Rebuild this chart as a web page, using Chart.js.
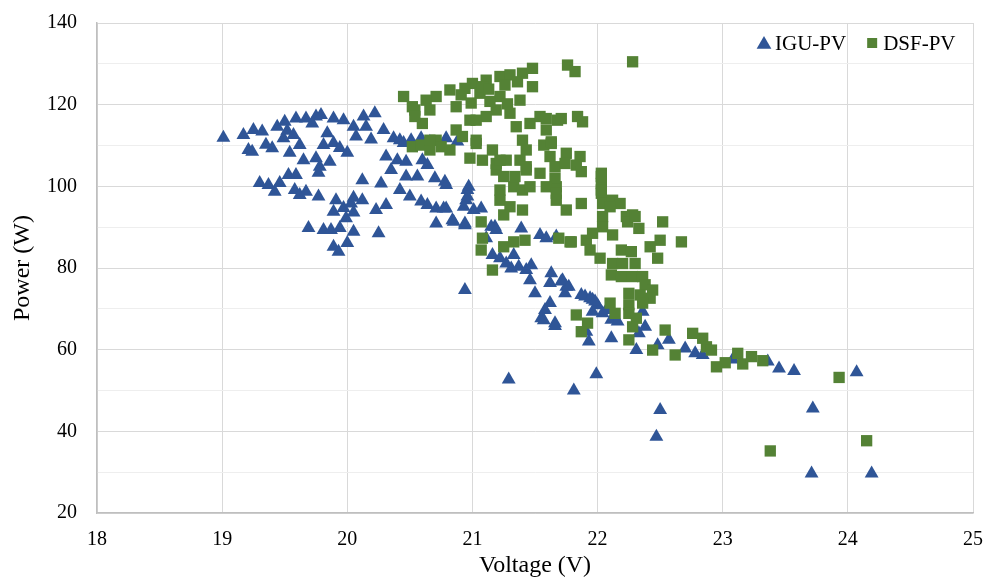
<!DOCTYPE html>
<html>
<head>
<meta charset="utf-8">
<script src="https://cdn.jsdelivr.net/npm/chart.js@4"></script>
<style>
  html, body { margin: 0; padding: 0; background: #fff; }
  #wrap { width: 989px; height: 577px; }
</style>
</head>
<body>
<div id="wrap"><canvas id="chart"></canvas></div>
<script>
/* IGU-PV vs DSF-PV — Power x Voltage */

const xTicks = [18, 19, 20, 21, 22, 23, 24, 25];
const yTickLabels = [20, 40, 60, 80, 100, 120, 140];

const iguVoltage = [
  19.01, 19.17, 19.25, 19.32, 19.21, 19.24, 19.40, 19.44, 19.50, 19.59, 19.67, 19.75, 19.79, 19.89, 19.97, 20.13,
  19.49, 19.57, 19.62, 19.54, 19.81, 19.89, 19.94, 20.00, 19.65, 19.75, 19.78, 19.86, 19.77, 20.12, 19.59, 19.53,
  19.30, 19.37, 19.42, 19.46, 19.58, 19.62, 19.67, 19.77, 19.91, 19.97, 20.03, 20.12, 19.89, 19.99, 19.69, 19.81,
  19.87, 19.94, 20.05, 19.89, 19.93, 20.00, 20.22, 20.05, 20.15, 20.29, 20.37, 20.42, 20.51, 20.59, 20.79, 20.31,
  20.40, 20.47, 20.60, 20.64, 20.35, 20.47, 20.56, 20.70, 20.78, 20.27, 20.42, 20.50, 20.59, 20.64, 20.71, 20.79,
  20.71, 20.84, 20.94, 20.96, 20.96, 21.07, 20.23, 20.31, 20.25, 20.05, 20.05, 21.18, 20.79, 20.97, 20.95, 20.93,
  21.01, 20.77, 20.85, 20.94, 21.15, 21.19, 21.39, 21.54, 21.59, 21.67, 21.11, 21.16, 21.22, 21.27, 21.33, 21.31,
  21.37, 21.43, 21.47, 21.46, 21.50, 21.63, 21.62, 21.71, 21.75, 21.74, 21.62, 21.58, 21.55, 21.66, 21.90, 21.96,
  22.00, 22.07, 20.94, 21.72, 21.77, 21.87, 21.94, 21.98, 21.96, 22.04, 22.11, 22.16, 22.36, 22.38, 22.33, 21.91,
  21.93, 22.11, 22.31, 22.48, 22.57, 22.70, 22.78, 22.84, 23.08, 23.36, 23.45, 23.57, 24.07, 22.50, 22.47, 23.72,
  23.71, 24.19, 21.29, 21.81, 21.99, 21.66, 21.57, 19.72, 19.84, 20.07, 20.19, 20.45, 20.66, 20.88, 19.35, 19.52
];
const iguPower = [
  111.9, 112.6, 113.8, 113.4, 108.9, 108.5, 109.3, 114.6, 115.8, 116.6, 116.6, 117.1, 117.5, 116.6, 116.2, 117.1,
  111.8, 112.6, 110.1, 108.2, 110.1, 110.6, 109.4, 108.2, 106.4, 106.9, 104.8, 106.0, 103.3, 101.5, 102.8, 102.8,
  100.8, 100.3, 98.7, 100.8, 99.1, 97.9, 98.7, 97.5, 96.6, 94.7, 95.8, 96.6, 93.8, 92.2, 89.8, 89.3,
  89.3, 89.8, 88.9, 85.2, 84.0, 86.1, 117.9, 114.6, 114.6, 113.8, 111.8, 111.3, 111.3, 111.8, 111.8, 107.3,
  106.4, 106.0, 106.4, 105.2, 104.0, 102.4, 102.4, 102.0, 101.1, 100.7, 99.1, 97.5, 96.3, 95.4, 94.6, 94.6,
  90.9, 91.7, 90.9, 99.1, 97.5, 94.6, 94.2, 95.4, 88.5, 97.2, 93.6, 90.1, 100.3, 99.9, 96.6, 95.0,
  94.2, 94.6, 91.3, 90.5, 90.1, 89.3, 89.7, 88.1, 87.3, 87.7, 87.3, 83.2, 82.4, 81.1, 83.2, 79.9,
  80.3, 79.5, 80.7, 77.0, 73.8, 78.7, 76.3, 76.7, 75.4, 73.8, 71.4, 69.7, 67.7, 66.5, 73.0, 72.2,
  70.9, 69.7, 74.6, 77.0, 75.4, 73.4, 72.6, 71.8, 69.3, 68.9, 67.3, 66.9, 69.3, 65.6, 64.0, 64.4,
  62.0, 62.8, 59.9, 61.1, 62.4, 60.3, 59.1, 58.7, 57.6, 57.1, 55.4, 54.8, 54.5, 45.2, 38.7, 45.6,
  29.7, 29.7, 52.7, 50.0, 54.0, 65.8, 67.2, 115.4, 113.0, 112.2, 111.5, 110.6, 110.9, 111.0, 110.2, 113.6
];

const dsfVoltage = [
  20.45, 20.54, 20.60, 20.66, 20.71, 20.82, 20.52, 20.59, 20.66, 20.71, 20.75, 20.87, 20.92, 21.03, 20.98, 21.08,
  21.19, 21.07, 21.08, 21.07, 20.52, 20.54, 20.63, 20.87, 20.91, 21.00, 21.11, 21.22, 21.30, 21.40, 21.48, 21.48,
  21.06, 21.22, 20.99, 20.98, 21.11, 21.03, 21.19, 21.30, 21.38, 21.35, 21.46, 21.54, 21.59, 21.63, 21.68, 21.57,
  21.43, 21.19, 21.27, 21.38, 21.43, 21.54, 21.25, 21.33, 21.22, 21.40, 21.67, 20.66, 20.82, 21.03, 21.08, 21.76,
  21.82, 22.28, 21.59, 21.71, 21.84, 21.88, 21.40, 21.63, 21.62, 21.75, 21.86, 21.66, 21.74, 21.83, 21.87, 21.43,
  21.66, 21.22, 21.16, 21.34, 21.46, 21.59, 21.67, 21.67, 21.75, 21.87, 21.22, 21.30, 21.40, 21.25, 22.03, 22.03,
  22.03, 22.04, 22.12, 22.18, 22.23, 22.28, 21.16, 21.25, 21.33, 21.42, 21.69, 21.78, 21.91, 21.94, 22.02, 21.83,
  21.92, 22.10, 22.03, 22.03, 22.10, 22.04, 22.24, 22.30, 22.33, 22.52, 22.67, 22.50, 22.42, 22.48, 22.12, 22.04,
  21.96, 21.79, 22.19, 22.27, 22.12, 22.20, 22.30, 22.11, 22.19, 22.28, 22.36, 22.38, 22.44, 22.42, 22.25, 22.34,
  22.36, 22.25, 22.25, 22.31, 22.28, 22.14, 21.87, 22.25, 22.44, 22.54, 22.62, 22.76, 22.84, 22.87, 22.91, 22.95,
  23.02, 23.12, 23.16, 23.23, 23.32, 23.93, 23.38, 24.15, 21.13, 21.26, 21.36, 20.94, 21.14, 21.28
];
const dsfPower = [
  122.0, 118.7, 115.4, 118.7, 122.0, 123.6, 109.7, 110.1, 108.9, 111.3, 109.7, 113.8, 112.2, 110.5, 106.9, 106.4,
  104.0, 91.3, 87.3, 84.4, 119.5, 117.1, 121.1, 119.5, 122.4, 125.2, 126.0, 126.9, 127.3, 127.7, 128.9, 124.4,
  122.8, 122.0, 120.4, 116.2, 117.1, 111.3, 118.7, 117.9, 121.1, 114.6, 115.4, 117.1, 113.8, 110.5, 116.2, 110.1,
  108.9, 105.6, 106.4, 106.4, 104.8, 103.2, 102.4, 99.9, 99.1, 99.1, 99.9, 111.3, 108.9, 116.2, 124.4, 129.7,
  128.1, 130.5, 116.6, 116.6, 117.1, 115.8, 111.3, 110.9, 107.3, 108.1, 107.3, 104.8, 105.6, 105.2, 103.6, 104.0,
  102.0, 106.4, 108.9, 102.4, 99.9, 99.9, 98.3, 96.6, 94.2, 95.8, 96.6, 95.0, 94.2, 93.0, 103.2, 100.7,
  98.3, 95.8, 96.6, 95.8, 92.6, 93.0, 79.5, 85.2, 86.4, 86.8, 87.3, 86.4, 86.8, 84.4, 82.4, 68.5,
  66.5, 71.4, 102.4, 99.1, 95.0, 92.6, 91.3, 92.6, 89.7, 91.3, 86.4, 86.8, 85.2, 82.4, 88.1, 90.1,
  88.5, 86.4, 84.4, 84.0, 81.1, 81.1, 81.1, 78.3, 77.9, 77.9, 77.9, 75.9, 74.6, 72.6, 73.8, 73.4,
  71.4, 71.0, 68.9, 67.7, 65.6, 68.9, 64.4, 62.4, 59.9, 64.8, 58.7, 64.0, 62.8, 60.7, 59.9, 55.8,
  56.8, 59.1, 56.5, 58.3, 57.3, 53.2, 35.2, 37.7, 123.8, 124.8, 125.6, 124.0, 120.8, 120.2
];

const IGU_COLOR = "#2f5597";
const DSF_COLOR = "#548235";
const FONT = "'Liberation Serif', 'Times New Roman', serif";

const toPoints = (xs, ys) => xs.map((x, i) => ({ x, y: ys[i] }));

// legend drawn inside the plot, top right (Excel style)
const insideLegend = {
  id: "insideLegend",
  afterDraw(chart) {
    const { ctx, chartArea } = chart;
    const y = chartArea.top + 20;
    let x = chartArea.right - 216;
    ctx.save();
    ctx.font = `21px ${FONT}`;
    ctx.textBaseline = "middle";
    chart.data.datasets.forEach((ds) => {
      ctx.fillStyle = ds.backgroundColor;
      ctx.beginPath();
      if (ds.pointStyle === "triangle") {
        const r = 8.5;
        for (let k = 0; k < 3; k++) {
          const a = (k * 2 * Math.PI) / 3;
          const px = x + 7 + Math.sin(a) * r;
          const py = y + 1.5 - Math.cos(a) * r;
          k ? ctx.lineTo(px, py) : ctx.moveTo(px, py);
        }
        ctx.closePath();
      } else {
        ctx.rect(x + 2, y - 5, 10, 10);
      }
      ctx.fill();
      ctx.fillStyle = "#000";
      ctx.fillText(ds.label, x + 18, y + 1);
      x += 18 + ctx.measureText(ds.label).width + 19;
    });
    ctx.restore();
  },
};

new Chart(document.getElementById("chart"), {
  type: "scatter",
  data: {
    datasets: [
      {
        label: "IGU-PV",
        data: toPoints(iguVoltage, iguPower),
        pointStyle: "triangle",
        pointRadius: 8,
        backgroundColor: IGU_COLOR,
        borderColor: IGU_COLOR,
        borderWidth: 0,
        order: 1,
      },
      {
        label: "DSF-PV",
        data: toPoints(dsfVoltage, dsfPower),
        pointStyle: "rect",
        pointRadius: 8,
        backgroundColor: DSF_COLOR,
        borderColor: DSF_COLOR,
        borderWidth: 0,
        order: 0,
      },
    ],
  },
  plugins: [insideLegend],
  options: {
    responsive: true,
    maintainAspectRatio: false,
    animation: false,
    layout: { padding: { top: 23, right: 16, left: 0, bottom: 0 } },
    plugins: {
      tooltip: { enabled: false },
      legend: { display: false },
    },
    scales: {
      x: {
        type: "linear",
        min: xTicks[0],
        max: xTicks[xTicks.length - 1],
        afterBuildTicks: (s) => { s.ticks = xTicks.map((v) => ({ value: v })); },
        afterFit: (s) => { s.height = 64; s.paddingLeft = 0; s.paddingRight = 0; },
        ticks: { color: "#000", padding: 15, font: { family: FONT, size: 20 } },
        grid: { color: "#d9d9d9", drawTicks: false },
        border: { color: "#bfbfbf", width: 1.5 },
        title: {
          display: true,
          text: "Voltage (V)",
          color: "#000",
          padding: { top: 0, bottom: -3 },
          font: { family: FONT, size: 24 },
        },
      },
      y: {
        min: 20,
        max: 140,
        afterFit: (s) => { s.width = 97; s.paddingTop = 0; s.paddingBottom = 0; },
        ticks: {
          stepSize: 10,
          color: "#000",
          padding: 20,
          font: { family: FONT, size: 20 },
          callback: (v) => (yTickLabels.includes(v) ? v : ""),
        },
        grid: {
          color: (c) => (c.tick && yTickLabels.includes(c.tick.value) ? "#d9d9d9" : "#eeeeee"),
          drawTicks: false,
        },
        border: { color: "#bfbfbf", width: 1.5 },
        title: {
          display: true,
          text: "Power (W)",
          color: "#000",
          padding: { top: 8, bottom: 0 },
          font: { family: FONT, size: 24 },
        },
      },
    },
  },
});
</script>
</body>
</html>
